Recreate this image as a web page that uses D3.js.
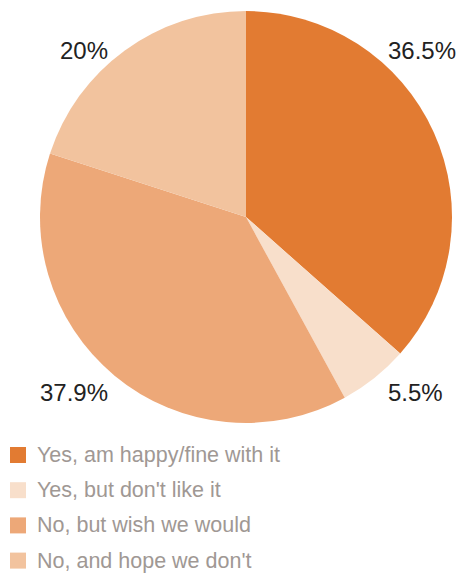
<!DOCTYPE html>
<html>
<head>
<meta charset="utf-8">
<script src="https://cdn.jsdelivr.net/npm/d3@7"></script>
<style>
    body { margin: 0; background: #fff; }
    svg { display: block; font-family: "Liberation Sans", Arial, sans-serif; }
</style>
</head>
<body>
<script>
(function() {
    // chart data
    var categories = ["Yes, am happy/fine with it", "Yes, but don't like it", "No, but wish we would", "No, and hope we don't"];
    var values = [36.5, 5.5, 37.9, 20];
    var labels = ["36.5%", "5.5%", "37.9%", "20%"];
    var colors = ["#e27b32", "#f8dfcb", "#eda878", "#f2c39e"];

    // layout settings
    var settings = {
        width: 461,
        height: 573,
        cx: 246,
        cy: 217,
        radius: 206,
        labelDx: 142,
        labelDy: 179,
        legendTop: 447,
        legendStep: 35.2,
        swatch: 16
    };

    var svg = d3.select("body").append("svg")
        .attr("width", settings.width)
        .attr("height", settings.height);

    var pie = d3.pie().sort(null).value(function(d) { return d; });
    var arc = d3.arc().innerRadius(0).outerRadius(settings.radius);
    var arcs = pie(values);

    var g = svg.append("g")
        .attr("transform", "translate(" + settings.cx + "," + settings.cy + ")");

    // slices
    g.selectAll("path.slice")
        .data(arcs)
        .enter()
        .append("path")
            .classed("slice", true)
            .attr("d", arc)
            .attr("fill", function(d, i) { return colors[i]; });

    // percentage labels, pushed to the corner of their quadrant
    g.selectAll("text.pct")
        .data(arcs)
        .enter()
        .append("text")
            .classed("pct", true)
            .attr("x", function(d) {
                var c = arc.centroid(d);
                return c[0] >= 0 ? settings.labelDx : -settings.labelDx + 4;
            })
            .attr("y", function(d) {
                var c = arc.centroid(d);
                return c[1] >= 0 ? settings.labelDy + 5 : -settings.labelDy + 21;
            })
            .attr("text-anchor", function(d) {
                return arc.centroid(d)[0] >= 0 ? "start" : "end";
            })
            .attr("font-size", 24)
            .attr("fill", "#222")
            .text(function(d, i) { return labels[i]; });

    // legend
    var legend = svg.selectAll("g.legend")
        .data(categories)
        .enter()
        .append("g")
            .classed("legend", true)
            .attr("transform", function(d, i) {
                return "translate(10," + (settings.legendTop + i * settings.legendStep) + ")";
            });

    legend.append("rect")
        .attr("width", settings.swatch)
        .attr("height", settings.swatch)
        .attr("fill", function(d, i) { return colors[i]; });

    legend.append("text")
        .attr("x", 27)
        .attr("y", 15)
        .attr("font-size", 21.5)
        .attr("fill", "#a09894")
        .text(function(d) { return d; });
})();
</script>
</body>
</html>
